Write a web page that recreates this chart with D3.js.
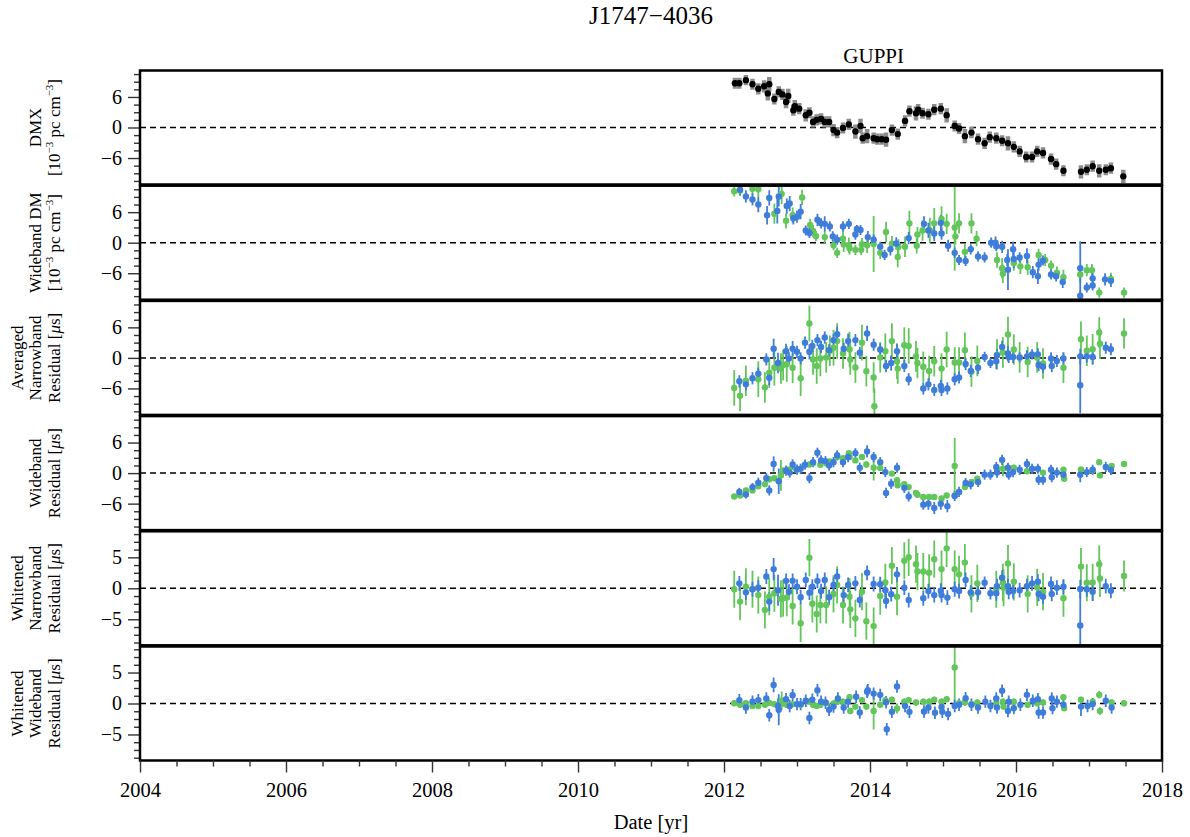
<!DOCTYPE html>
<html><head><meta charset="utf-8">
<script src="https://cdn.jsdelivr.net/npm/d3@7"></script>
<style>
body{margin:0;background:#fff}
svg{display:block}
text{font-family:"Liberation Serif","Times New Roman",serif;fill:#000}
</style>
</head><body>
<svg id="chart" width="1190" height="837"></svg>
<script>
// ---- data: [year, value, uncertainty] ----
const dmxGuppi = [
[2012.15,8.7,1.1],[2012.21,8.7,1.1],[2012.30,9.3,1.0],[2012.39,8.5,1.1],[2012.47,7.6,1.1],[2012.55,8.1,1.2],
[2012.60,6.7,1.4],[2012.62,8.5,1.4],[2012.69,5.6,1.1],[2012.75,7.0,1.1],[2012.80,6.5,1.1],[2012.85,5.0,1.2],
[2012.88,6.2,1.4],[2012.95,3.4,1.1],[2012.97,4.2,1.2],[2013.03,3.7,1.1],[2013.12,2.4,1.2],[2013.17,2.9,1.1],
[2013.22,1.1,1.1],[2013.27,1.5,1.1],[2013.33,1.7,1.1],[2013.38,1.1,1.1],[2013.44,1.1,1.1],[2013.50,-0.5,1.2],
[2013.55,-1.0,1.1],[2013.63,-0.1,1.1],[2013.71,0.6,1.1],[2013.80,-0.8,1.4],[2013.87,0.3,1.4],[2013.90,-2.1,1.1],
[2013.96,-1.7,1.4],[2014.05,-2.1,1.1],[2014.10,-2.3,1.1],[2014.16,-2.3,1.1],[2014.22,-2.4,1.4],[2014.30,-0.5,1.1],
[2014.38,-1.3,1.1],[2014.48,1.3,1.1],[2014.54,3.2,1.1],[2014.63,2.8,1.4],[2014.66,3.5,1.1],[2014.72,2.8,1.1],
[2014.80,2.6,1.1],[2014.88,3.5,1.1],[2014.97,3.7,1.1],[2015.05,2.4,1.4],[2015.16,0.3,1.1],[2015.22,-0.2,1.1],
[2015.30,-1.7,1.4],[2015.39,-1.0,1.1],[2015.48,-2.3,1.1],[2015.57,-3.1,1.1],[2015.64,-1.9,1.1],[2015.73,-2.1,1.1],
[2015.81,-2.6,1.1],[2015.89,-3.1,1.4],[2015.97,-3.8,1.1],[2016.05,-4.7,1.1],[2016.14,-5.8,1.1],[2016.22,-5.8,1.1],
[2016.29,-4.7,1.1],[2016.37,-5.0,1.1],[2016.48,-6.2,1.1],[2016.55,-7.2,1.1],[2016.65,-8.5,1.1],[2016.89,-8.7,1.3],
[2016.97,-8.3,1.1],[2017.05,-7.6,1.1],[2017.14,-8.5,1.3],[2017.23,-8.3,1.1],[2017.30,-8.0,1.1],[2017.47,-9.6,1.3]
];

const wbDmBlue = [
[2012.22,10.4,1.0],[2012.30,9.1,1.2],[2012.39,8.5,1.2],[2012.47,7.5,1.5],[2012.59,5.4,1.8],[2012.62,8.8,1.5],
[2012.73,6.25,2.5],[2012.75,9.1,2.0],[2012.86,7.2,1.5],[2012.90,7.7,1.5],[2012.95,4.8,1.2],[2013.00,5.1,1.2],
[2013.05,6.1,1.5],[2013.12,2.4,1.0],[2013.17,1.9,1.0],[2013.28,4.5,1.2],[2013.33,3.8,1.0],[2013.38,3.7,1.5],
[2013.45,3.2,1.0],[2013.49,1.25,1.0],[2013.55,0.6,1.0],[2013.63,3.2,1.0],[2013.71,3.7,1.0],[2013.80,1.6,1.0],
[2013.82,2.7,0.8],[2013.87,2.5,1.0],[2013.97,1.1,1.2],[2014.05,0.6,1.0],[2014.14,-0.8,1.0],[2014.20,-2.4,1.0],
[2014.28,-1.3,1.2],[2014.36,-0.15,1.2],[2014.53,0.9,1.2],[2014.74,3.7,1.5],[2014.80,2.4,1.5],[2014.88,1.8,1.5],
[2014.97,3.9,1.5],[2014.98,1.8,1.2],[2015.07,-0.6,1.2],[2015.16,-2.0,1.0],[2015.22,-3.4,1.0],[2015.31,-3.6,1.0],
[2015.38,-1.3,1.0],[2015.48,-2.7,1.0],[2015.57,-2.9,1.0],[2015.66,0.0,1.0],[2015.72,0.0,1.2],[2015.73,-0.7,1.0],
[2015.81,-0.8,1.2],[2015.88,-3.4,1.2],[2015.89,-5.3,4.0],[2015.96,-1.3,1.5],[2015.97,-3.2,1.8],[2016.05,-2.9,1.0],
[2016.15,-2.6,1.5],[2016.23,-5.8,1.2],[2016.30,-6.6,1.5],[2016.31,-4.3,1.2],[2016.37,-3.5,1.0],[2016.48,-6.25,1.0],
[2016.55,-6.6,1.0],[2016.64,-7.7,1.2],[2016.88,-5.0,5.3],[2016.88,-10.4,1.0],[2016.97,-8.8,1.0],[2017.05,-7.0,1.2],
[2017.05,-8.4,1.0],[2017.22,-7.2,1.2],[2017.30,-7.5,1.2]
];
const wbDmGreen = [
[2012.14,10.1,1.0],[2012.22,10.2,1.0],[2012.39,10.6,1.2],[2012.47,10.5,1.5],[2012.69,5.7,2.0],[2012.79,9.6,2.0],
[2012.85,4.3,1.5],[2012.94,5.4,1.5],[2013.07,8.9,1.5],[2013.18,3.5,1.2],[2013.22,2.3,1.2],[2013.26,1.3,1.0],
[2013.38,1.1,1.2],[2013.50,-0.5,1.0],[2013.55,-2.0,1.0],[2013.63,0.8,1.5],[2013.64,-0.35,1.5],[2013.71,-0.5,1.5],
[2013.72,-1.1,1.2],[2013.80,-1.4,1.0],[2013.88,-1.4,1.0],[2013.89,-0.3,1.2],[2013.96,-0.5,1.5],[2014.05,-0.25,5.5],
[2014.14,-2.0,1.2],[2014.22,2.1,2.0],[2014.30,-0.2,1.5],[2014.38,-2.8,2.0],[2014.39,-0.8,1.5],[2014.48,-0.8,2.0],
[2014.54,3.8,2.5],[2014.64,-0.6,1.5],[2014.65,1.6,1.5],[2014.72,2.4,2.0],[2014.82,2.4,2.5],[2014.88,3.8,3.0],
[2014.98,4.65,2.5],[2015.05,3.7,2.0],[2015.16,3.0,8.5],[2015.17,1.25,1.5],[2015.22,3.8,2.0],[2015.30,-1.8,1.5],
[2015.39,3.8,2.0],[2015.46,0.8,1.5],[2015.74,-3.4,1.5],[2015.81,-5.0,2.0],[2015.82,-6.1,1.8],[2015.97,-4.0,1.5],
[2016.06,-4.65,1.5],[2016.16,-4.8,1.5],[2016.31,-2.4,1.2],[2016.40,-3.4,1.2],[2016.48,-4.5,1.0],[2016.56,-5.9,1.2],
[2016.65,-6.8,1.5],[2016.88,-6.25,1.5],[2016.97,-5.4,1.2],[2017.04,-5.4,1.2],[2017.14,-9.8,1.0],[2017.30,-7.1,1.2],
[2017.48,-9.8,1.0]
];

const avgNbBlue = [
[2012.21,-4.6,1.2],[2012.30,-5.2,1.2],[2012.39,-4.0,1.2],[2012.47,-3.1,1.2],[2012.58,-0.3,1.2],[2012.62,-3.9,1.5],
[2012.68,1.8,2.0],[2012.74,-1.0,2.0],[2012.85,1.3,1.5],[2012.89,-0.1,1.2],[2012.94,1.8,1.5],[2013.00,1.2,1.2],
[2013.05,-0.1,1.2],[2013.11,3.0,1.2],[2013.17,1.2,1.5],[2013.21,2.35,1.2],[2013.28,3.5,1.2],[2013.33,2.15,1.2],
[2013.38,4.0,1.2],[2013.44,1.5,1.2],[2013.50,3.5,1.2],[2013.55,4.65,1.5],[2013.64,1.8,1.2],[2013.70,3.3,1.5],
[2013.80,3.5,1.2],[2013.86,1.0,1.2],[2013.96,4.8,1.5],[2014.05,2.6,1.2],[2014.14,1.65,1.2],[2014.22,-1.6,1.2],
[2014.29,-1.0,1.5],[2014.37,1.3,1.5],[2014.47,-1.6,1.2],[2014.53,-4.2,1.2],[2014.73,-6.0,1.2],[2014.80,-5.2,1.2],
[2014.88,-6.3,1.2],[2014.97,-5.5,1.2],[2014.98,-6.3,1.2],[2015.06,-6.0,1.2],[2015.16,-4.2,1.2],[2015.22,-3.85,1.2],
[2015.31,-1.2,1.2],[2015.38,-2.55,1.2],[2015.48,-1.95,1.2],[2015.57,0.2,1.0],[2015.65,-1.0,1.0],[2015.73,-0.65,1.5],
[2015.74,0.5,1.2],[2015.81,2.15,1.2],[2015.89,0.85,1.5],[2015.90,0.2,1.2],[2015.96,0.2,1.2],[2016.05,0.1,1.0],
[2016.15,0.3,1.2],[2016.22,0.7,1.0],[2016.30,0.7,1.2],[2016.31,-1.4,1.2],[2016.37,-1.75,1.2],[2016.48,-0.1,1.2],
[2016.49,-1.6,1.2],[2016.56,-0.6,1.2],[2016.65,-0.1,1.2],[2016.88,0.3,1.5],[2016.88,-5.35,5.5],[2016.97,0.3,1.2],
[2017.05,0.2,1.5],[2017.23,2.0,1.2],[2017.30,1.7,1.2]
];
const avgNbGreen = [
[2012.14,-5.9,3.5],[2012.22,-7.45,3.0],[2012.30,-4.5,3.0],[2012.47,-4.2,3.5],[2012.56,-5.8,3.0],[2012.62,-2.9,3.0],
[2012.69,-1.95,3.5],[2012.78,-2.1,3.0],[2012.81,-1.4,3.0],[2012.86,-1.2,3.5],[2012.94,-1.95,3.0],[2013.05,-4.0,3.5],
[2013.17,6.75,3.5],[2013.22,-0.3,3.0],[2013.27,-1.6,3.5],[2013.32,-0.1,3.5],[2013.40,0.1,3.0],[2013.45,1.4,3.0],
[2013.50,2.0,3.5],[2013.55,3.3,3.5],[2013.63,0.85,3.0],[2013.72,1.65,3.5],[2013.73,-0.3,3.0],[2013.80,-1.9,3.0],
[2013.89,3.0,3.5],[2013.95,-2.6,3.0],[2014.05,-3.85,3.0],[2014.06,-9.5,3.5],[2014.14,0.1,3.0],[2014.21,1.3,3.5],
[2014.30,3.3,3.5],[2014.37,-0.65,3.5],[2014.38,-2.1,3.0],[2014.47,2.5,3.5],[2014.53,2.35,3.5],[2014.63,0.3,3.0],
[2014.65,-1.0,3.0],[2014.73,-1.75,3.0],[2014.81,-2.55,3.0],[2014.88,-0.65,3.0],[2014.98,-2.1,3.0],[2015.05,1.65,3.5],
[2015.16,-0.9,3.0],[2015.22,-0.9,3.0],[2015.30,1.5,3.5],[2015.39,-2.7,3.0],[2015.47,-0.6,3.0],[2015.74,0.65,3.0],
[2015.82,1.05,3.0],[2015.89,4.6,3.5],[2015.97,1.65,3.0],[2016.05,0.1,3.0],[2016.16,-0.8,3.0],[2016.29,0.1,3.0],
[2016.37,-1.1,3.0],[2016.65,-1.95,3.0],[2016.89,3.65,3.5],[2016.97,1.4,3.0],[2017.05,1.7,3.0],[2017.14,5.0,3.0],
[2017.15,2.8,3.0],[2017.48,4.8,3.0]
];

const wbResBlue = [
[2012.21,-3.7,0.8],[2012.30,-4.2,0.8],[2012.39,-2.75,0.8],[2012.47,-1.9,1.0],[2012.58,-1.0,1.0],[2012.62,-3.4,1.0],
[2012.68,1.8,1.5],[2012.75,-1.6,2.5],[2012.85,0.5,1.0],[2012.90,0.1,1.0],[2012.94,1.7,1.0],[2013.00,0.7,1.0],
[2013.05,0.85,1.0],[2013.11,1.65,1.0],[2013.17,-1.0,1.0],[2013.22,2.15,1.0],[2013.28,4.0,1.0],[2013.33,2.5,1.0],
[2013.39,2.35,1.0],[2013.44,1.5,1.0],[2013.50,2.15,1.0],[2013.55,3.5,1.0],[2013.63,2.15,1.0],[2013.70,3.15,1.0],
[2013.80,3.9,1.0],[2013.86,1.05,1.0],[2013.96,4.25,1.2],[2014.05,3.15,1.0],[2014.14,2.15,1.0],[2014.21,0.2,1.0],
[2014.22,-3.9,1.0],[2014.29,-2.1,1.0],[2014.37,1.05,1.0],[2014.47,-2.9,1.0],[2014.53,-4.6,1.0],[2014.73,-6.2,1.0],
[2014.80,-6.0,1.2],[2014.88,-6.85,1.2],[2014.97,-6.0,1.2],[2015.06,-6.5,1.2],[2015.16,-4.5,1.0],[2015.22,-3.7,1.0],
[2015.31,-1.95,1.0],[2015.38,-2.2,1.0],[2015.48,-1.75,1.0],[2015.57,-0.3,1.0],[2015.65,-0.3,1.0],[2015.73,1.2,1.0],
[2015.74,0.1,1.0],[2015.81,2.6,1.0],[2015.89,1.05,1.0],[2015.90,-0.3,1.0],[2015.96,0.2,1.0],[2016.05,0.65,1.0],
[2016.15,1.8,1.0],[2016.22,0.85,1.0],[2016.30,0.85,1.0],[2016.31,-1.3,1.0],[2016.37,-1.3,1.0],[2016.48,0.65,1.0],
[2016.49,-0.8,1.0],[2016.56,0.1,1.0],[2016.65,-0.3,1.0],[2016.88,-0.3,1.5],[2016.97,0.2,1.0],[2017.05,0.65,1.0],
[2017.23,1.2,1.0],[2017.30,0.65,1.0]
];
const wbResGreen = [
[2012.14,-4.6,0.5],[2012.22,-4.4,0.5],[2012.30,-3.4,0.5],[2012.39,-3.4,0.5],[2012.47,-2.6,0.5],[2012.56,-2.2,0.5],
[2012.62,-1.2,0.6],[2012.69,-1.0,0.5],[2012.78,-0.45,3.0],[2012.81,0.5,0.5],[2012.89,0.7,0.5],[2012.99,0.7,0.5],
[2013.17,1.7,0.5],[2013.22,2.0,0.5],[2013.32,1.65,0.5],[2013.40,1.95,0.5],[2013.45,2.3,0.5],[2013.55,3.15,0.5],
[2013.63,2.95,0.5],[2013.71,3.9,0.5],[2013.72,3.15,0.5],[2013.80,2.5,0.5],[2013.89,3.15,0.5],[2013.95,1.7,0.6],
[2014.05,1.05,2.5],[2014.14,1.0,0.5],[2014.30,-0.1,0.5],[2014.37,-1.4,0.5],[2014.38,-2.4,0.5],[2014.47,-2.2,0.5],
[2014.53,-2.75,0.5],[2014.63,-3.9,0.5],[2014.65,-4.25,0.5],[2014.73,-4.7,0.5],[2014.81,-4.7,0.5],[2014.88,-4.7,0.5],
[2014.98,-5.0,0.5],[2015.05,-4.4,0.5],[2015.16,1.4,5.5],[2015.16,-4.4,0.5],[2015.22,-3.7,0.5],[2015.30,-2.75,0.5],
[2015.39,-1.75,0.5],[2015.47,-1.1,0.5],[2015.74,0.7,0.6],[2015.82,0.85,1.5],[2015.97,1.05,0.6],[2016.15,0.35,0.5],
[2016.37,0.1,0.5],[2016.65,0.65,0.5],[2016.66,-1.1,0.5],[2016.89,0.7,0.5],[2017.05,0.5,0.5],[2017.14,2.15,0.5],
[2017.15,-0.45,0.5],[2017.31,1.4,0.5],[2017.48,1.8,0.5]
];

const whNbBlue = [
[2012.21,0.8,1.2],[2012.30,-0.65,1.2],[2012.39,-0.15,1.2],[2012.47,0.1,1.2],[2012.58,1.9,1.2],[2012.62,-2.15,1.5],
[2012.68,3.1,1.8],[2012.74,-0.3,2.5],[2012.85,1.2,1.2],[2012.89,-0.55,1.2],[2012.94,1.2,1.2],[2013.00,0.25,1.2],
[2013.05,-1.45,1.2],[2013.12,1.35,1.2],[2013.17,-0.7,1.2],[2013.21,0.25,1.2],[2013.28,1.2,1.2],[2013.33,-0.45,1.2],
[2013.38,1.35,1.2],[2013.44,-1.45,1.2],[2013.50,0.55,1.2],[2013.55,1.9,1.2],[2013.64,-1.1,1.2],[2013.70,0.55,1.2],
[2013.80,0.8,1.2],[2013.86,-1.9,1.2],[2013.96,2.5,1.2],[2014.05,0.7,1.2],[2014.14,0.65,1.2],[2014.21,-0.3,1.2],
[2014.22,-2.05,1.2],[2014.29,-0.95,1.2],[2014.37,2.25,1.2],[2014.47,0.1,1.2],[2014.53,-1.9,1.2],[2014.73,-1.6,1.2],
[2014.80,-0.45,1.2],[2014.88,-1.1,1.2],[2014.97,-0.4,1.2],[2014.98,-1.1,1.2],[2015.06,-1.5,1.2],[2015.16,-0.15,1.2],
[2015.22,-0.45,1.2],[2015.31,1.35,1.2],[2015.38,-0.65,1.2],[2015.48,-0.65,1.2],[2015.57,0.9,1.0],[2015.65,-0.8,1.0],
[2015.73,-0.8,1.2],[2015.74,0.35,1.2],[2015.81,1.7,1.2],[2015.89,0.35,1.2],[2015.90,-0.55,1.2],[2015.96,-0.45,1.2],
[2016.05,-0.3,1.2],[2016.15,0.35,1.2],[2016.22,0.8,1.2],[2016.30,1.05,1.2],[2016.31,-0.9,1.2],[2016.37,-1.35,1.2],
[2016.48,0.7,1.2],[2016.49,-0.9,1.2],[2016.56,0.1,1.2],[2016.65,0.25,1.2],[2016.88,-0.1,1.5],[2016.88,-6.0,5.5],
[2016.97,-0.15,1.2],[2017.05,-0.55,1.5],[2017.23,0.35,1.2],[2017.30,-0.4,1.2]
];
const whNbGreen = [
[2012.14,-0.15,3.0],[2012.22,-2.15,3.0],[2012.30,0.25,3.0],[2012.39,-0.15,3.0],[2012.47,-1.1,3.0],[2012.56,-3.5,3.0],
[2012.62,-1.35,3.0],[2012.69,-0.8,3.0],[2012.78,-1.7,3.0],[2012.81,-1.6,3.0],[2012.86,-1.5,3.0],[2012.94,-2.85,3.0],
[2013.05,-5.65,3.0],[2013.17,4.95,3.0],[2013.21,-2.5,3.0],[2013.27,-4.15,3.0],[2013.32,-2.7,3.0],[2013.40,-2.7,3.0],
[2013.50,-0.9,3.0],[2013.55,0.55,3.0],[2013.63,-2.7,3.0],[2013.72,-1.35,3.0],[2013.73,-3.4,3.0],[2013.80,-4.85,3.0],
[2013.89,-0.55,3.0],[2013.95,-5.3,3.0],[2014.05,-6.1,3.0],[2014.14,-1.25,3.0],[2014.21,0.95,3.0],[2014.30,3.65,3.0],
[2014.37,-1.35,3.0],[2014.47,4.45,3.0],[2014.53,5.0,3.0],[2014.63,3.9,3.0],[2014.65,2.7,3.0],[2014.73,2.7,3.0],
[2014.81,2.5,3.0],[2014.88,4.7,3.0],[2014.98,3.1,3.0],[2015.05,6.45,3.0],[2015.16,3.1,3.0],[2015.22,2.25,3.0],
[2015.30,4.15,3.0],[2015.39,-0.9,3.0],[2015.47,0.8,3.0],[2015.73,-0.15,3.0],[2015.82,0.95,3.0],[2015.83,0.1,3.0],
[2015.89,4.0,3.0],[2015.97,1.05,3.0],[2016.16,-0.9,3.0],[2016.29,0.15,3.0],[2016.37,-0.55,3.0],[2016.65,-1.6,3.0],
[2016.89,3.5,3.0],[2016.97,0.9,3.0],[2017.05,0.95,3.0],[2017.14,3.9,3.0],[2017.15,1.6,3.0],[2017.48,2.0,2.5]
];

const whWbBlue = [
[2012.21,0.55,1.0],[2012.30,-0.65,1.0],[2012.39,0.3,1.0],[2012.47,0.55,1.0],[2012.58,0.8,1.0],[2012.62,-1.9,1.0],
[2012.68,3.0,1.2],[2012.74,-0.4,1.2],[2012.75,-1.0,2.5],[2012.85,0.7,1.0],[2012.90,-0.4,1.0],[2012.94,1.35,1.0],
[2013.00,-0.1,1.0],[2013.05,-0.1,1.0],[2013.12,0.45,1.0],[2013.17,-2.35,1.0],[2013.21,0.6,1.0],[2013.28,2.15,1.0],
[2013.33,0.3,1.0],[2013.39,0.15,1.0],[2013.44,-1.0,1.0],[2013.50,-0.5,1.0],[2013.56,0.8,1.0],[2013.64,-0.65,1.0],
[2013.70,0.3,1.0],[2013.81,1.1,1.0],[2013.86,-1.45,1.0],[2013.96,1.9,1.0],[2013.97,2.15,1.0],[2014.05,1.6,1.0],
[2014.14,1.4,1.0],[2014.22,0.2,1.0],[2014.23,-4.15,1.0],[2014.30,-1.35,1.0],[2014.37,2.75,1.0],[2014.48,-0.4,1.0],
[2014.54,-1.35,1.0],[2014.74,-1.3,1.0],[2014.80,-0.65,1.0],[2014.89,-1.5,1.0],[2014.98,-0.55,1.0],[2014.99,-1.35,1.0],
[2015.07,-1.7,1.0],[2015.16,-0.4,1.0],[2015.22,-0.2,1.0],[2015.31,0.85,1.0],[2015.39,-0.2,1.0],[2015.48,-0.65,1.0],
[2015.58,0.3,1.0],[2015.65,-0.4,1.0],[2015.73,0.8,1.0],[2015.74,-0.65,1.0],[2015.81,2.05,1.0],[2015.89,-1.2,1.0],
[2015.90,0.3,1.0],[2015.97,-0.75,1.0],[2016.06,-0.2,1.0],[2016.15,1.4,1.0],[2016.23,0.45,1.0],[2016.30,0.7,1.0],
[2016.31,-1.45,1.0],[2016.37,-1.45,1.0],[2016.49,0.8,1.0],[2016.50,-0.75,1.0],[2016.56,0.3,1.0],[2016.65,-0.2,1.0],
[2016.89,-0.5,1.5],[2016.98,-0.4,1.0],[2017.05,-0.1,1.0],[2017.23,0.45,1.0],[2017.31,-0.65,1.0]
];
const whWbGreen = [
[2012.14,0.05,0.5],[2012.22,-0.2,0.5],[2012.30,0.05,0.5],[2012.39,-0.4,0.5],[2012.47,-0.4,0.5],[2012.56,-0.2,0.5],
[2012.62,0.1,0.5],[2012.69,-0.1,0.5],[2012.79,0.45,1.5],[2012.81,0.0,0.5],[2012.86,-0.2,0.5],[2012.94,-0.1,0.5],
[2013.05,-0.2,0.5],[2013.17,0.3,0.5],[2013.22,-0.2,0.5],[2013.27,-0.4,0.5],[2013.32,-0.2,0.5],[2013.40,0.1,0.5],
[2013.50,-0.05,0.5],[2013.55,0.3,0.5],[2013.63,0.3,0.5],[2013.72,1.0,0.5],[2013.73,-1.2,0.5],[2013.80,-0.5,0.5],
[2013.89,0.55,0.5],[2013.95,-0.5,0.5],[2014.05,-1.2,3.0],[2014.14,-0.2,0.5],[2014.21,0.55,0.5],[2014.30,0.6,0.5],
[2014.37,-0.8,0.8],[2014.47,0.3,0.5],[2014.53,0.55,0.5],[2014.63,0.15,0.5],[2014.73,0.3,0.5],[2014.81,0.3,0.5],
[2014.88,0.6,0.5],[2014.98,0.3,0.5],[2015.05,0.7,0.5],[2015.16,5.8,5.5],[2015.22,0.05,0.5],[2015.30,0.15,0.5],
[2015.39,-0.1,0.5],[2015.47,0.15,0.5],[2015.73,0.05,0.5],[2015.82,0.3,0.5],[2015.83,-0.5,0.5],[2015.97,0.3,0.5],
[2016.16,-0.2,0.5],[2016.29,0.05,0.5],[2016.37,0.15,0.5],[2016.65,1.0,0.5],[2016.66,-0.75,0.5],[2016.89,0.6,0.5],
[2017.05,0.3,0.5],[2017.14,1.4,0.6],[2017.15,-1.2,0.6],[2017.31,0.15,0.5],[2017.48,0.05,0.5]
];

// ---- axis tick values ----
const xMajorTicks = [2004, 2006, 2008, 2010, 2012, 2014, 2016, 2018];
const dmTicks = [-6, 0, 6];
const whiteTicks = [-5, 0, 5];

const titleText = "J1747\u22124036";
const receiverLabel = "GUPPI";
const xLabel = "Date [yr]";

// ---- layout ----
const left = 140, right = 1162;
const top0 = 70.5, step = 115.2, panelH = 114;
const BLUE = "#3f7ddb", GREEN = "#62c65a";

const svg = d3.select("#chart");
const x = d3.scaleLinear().domain([2004, 2018]).range([left, right]);

const panels = [
  {lines: ["DMX", "DMU"], series: [{data: dmxGuppi, dot: "#000", bar: "#8c8c8c", bw: 4.5}],
   dom: 11.2, major: dmTicks, minor: 1.5},
  {lines: ["Wideband DM", "DMU"], series: [{data: wbDmGreen, dot: GREEN, bar: GREEN, bw: 1.8}, {data: wbDmBlue, dot: BLUE, bar: BLUE, bw: 1.8}],
   dom: 11.2, major: dmTicks, minor: 1.5},
  {lines: ["Averaged", "Narrowband", "RES"], series: [{data: avgNbGreen, dot: GREEN, bar: GREEN, bw: 1.8}, {data: avgNbBlue, dot: BLUE, bar: BLUE, bw: 1.8}],
   dom: 11.2, major: dmTicks, minor: 1.5},
  {lines: ["Wideband", "RES"], series: [{data: wbResGreen, dot: GREEN, bar: GREEN, bw: 1.8}, {data: wbResBlue, dot: BLUE, bar: BLUE, bw: 1.8}],
   dom: 11.2, major: dmTicks, minor: 1.5},
  {lines: ["Whitened", "Narrowband", "RES"], series: [{data: whNbGreen, dot: GREEN, bar: GREEN, bw: 1.8}, {data: whNbBlue, dot: BLUE, bar: BLUE, bw: 1.8}],
   dom: 9.2, major: whiteTicks, minor: 1.25},
  {lines: ["Whitened", "Wideband", "RES"], series: [{data: whWbGreen, dot: GREEN, bar: GREEN, bw: 1.8}, {data: whWbBlue, dot: BLUE, bar: BLUE, bw: 1.8}],
   dom: 9.2, major: whiteTicks, minor: 1.25}
];

const defs = svg.append("defs");

// writes one line of a y-axis label, with superscripts / italic mu where needed
function writeLine(t, kind) {
  if (kind === "DMU") {
    t.append("tspan").text("[10");
    t.append("tspan").attr("font-size", 11).attr("dy", -7).text("\u22123");
    t.append("tspan").attr("dy", 7).text(" pc cm");
    t.append("tspan").attr("font-size", 11).attr("dy", -7).text("\u22123");
    t.append("tspan").attr("dy", 7).text("]");
  } else if (kind === "RES") {
    t.append("tspan").text("Residual [");
    t.append("tspan").attr("font-style", "italic").text("\u03bc");
    t.append("tspan").text("s]");
  } else {
    t.text(kind);
  }
}

panels.forEach((p, i) => {
  const top = top0 + i * step, bottom = top + panelH;
  const y = d3.scaleLinear().domain([-p.dom, p.dom]).range([bottom, top]);
  const g = svg.append("g");

  defs.append("clipPath").attr("id", "clip" + i)
    .append("rect").attr("x", left).attr("y", top).attr("width", right - left).attr("height", panelH);

  // y axis: minor then major ticks
  const minorVals = d3.range(-Math.floor(p.dom / p.minor) * p.minor, p.dom + 1e-9, p.minor)
    .filter(v => !p.major.some(m => Math.abs(m - v) < 1e-6));
  const minorAxis = g.append("g").attr("transform", `translate(${left},0)`)
    .call(d3.axisLeft(y).tickValues(minorVals).tickSize(6).tickFormat(""));
  const majorAxis = g.append("g").attr("transform", `translate(${left},0)`)
    .call(d3.axisLeft(y).tickValues(p.major).tickSize(12).tickPadding(6).tickFormat(d3.format("d")));
  [minorAxis, majorAxis].forEach(a => {
    a.select(".domain").remove();
    a.selectAll(".tick line").attr("stroke", "#333").attr("stroke-width", 1.4);
  });
  majorAxis.selectAll(".tick text").attr("font-size", 20)
    .attr("font-family", "'Liberation Serif', 'Times New Roman', serif").attr("fill", "#000");

  // zero reference line
  g.append("line").attr("x1", left).attr("x2", right).attr("y1", y(0)).attr("y2", y(0))
    .attr("stroke", "#000").attr("stroke-width", 1.5).attr("stroke-dasharray", "6,4");

  // error bars and points
  const marks = g.append("g").attr("clip-path", `url(#clip${i})`);
  p.series.forEach(s => {
    marks.append("g").selectAll("line").data(s.data).join("line")
      .attr("x1", d => x(d[0])).attr("x2", d => x(d[0]))
      .attr("y1", d => y(d[1] - d[2])).attr("y2", d => y(d[1] + d[2]))
      .attr("stroke", s.bar).attr("stroke-width", s.bw);
  });
  p.series.forEach(s => {
    marks.append("g").selectAll("circle").data(s.data).join("circle")
      .attr("cx", d => x(d[0])).attr("cy", d => y(d[1])).attr("r", 3.2)
      .attr("fill", s.dot);
  });

  // frame
  g.append("rect").attr("x", left).attr("y", top).attr("width", right - left).attr("height", panelH)
    .attr("fill", "none").attr("stroke", "#000").attr("stroke-width", 2.5);

  // y label
  const cy = (top + bottom) / 2;
  const n = p.lines.length;
  const baseX = [[59.5], [41, 59.5], [22.5, 41, 59.5]][n - 1];
  p.lines.forEach((ln, k) => {
    const t = svg.append("text").attr("font-size", 17).attr("text-anchor", "middle")
      .attr("transform", `translate(${baseX[k]},${cy}) rotate(-90)`);
    writeLine(t, ln);
  });

  // x axis on the bottom panel
  if (i === panels.length - 1) {
    const minorX = d3.range(2004, 2018.01, 0.5).filter(v => v % 2 !== 0);
    const xa1 = g.append("g").attr("transform", `translate(0,${bottom})`)
      .call(d3.axisBottom(x).tickValues(minorX).tickSize(6).tickFormat(""));
    const xa2 = g.append("g").attr("transform", `translate(0,${bottom})`)
      .call(d3.axisBottom(x).tickValues(xMajorTicks).tickSize(12).tickPadding(10).tickFormat(d3.format("d")));
    [xa1, xa2].forEach(a => {
      a.select(".domain").remove();
      a.selectAll(".tick line").attr("stroke", "#333").attr("stroke-width", 1.4);
    });
    xa2.selectAll(".tick text").attr("font-size", 20.5)
      .attr("font-family", "'Liberation Serif', 'Times New Roman', serif").attr("fill", "#000");
  }
});

// titles
svg.append("text").attr("x", (left + right) / 2).attr("y", 24).attr("text-anchor", "middle")
  .attr("font-size", 25).text(titleText);
svg.append("text").attr("x", x(2014.05)).attr("y", 63).attr("text-anchor", "middle")
  .attr("font-size", 21).text(receiverLabel);
svg.append("text").attr("x", (left + right) / 2).attr("y", 829).attr("text-anchor", "middle")
  .attr("font-size", 20.5).text(xLabel);
</script>
</body></html>
